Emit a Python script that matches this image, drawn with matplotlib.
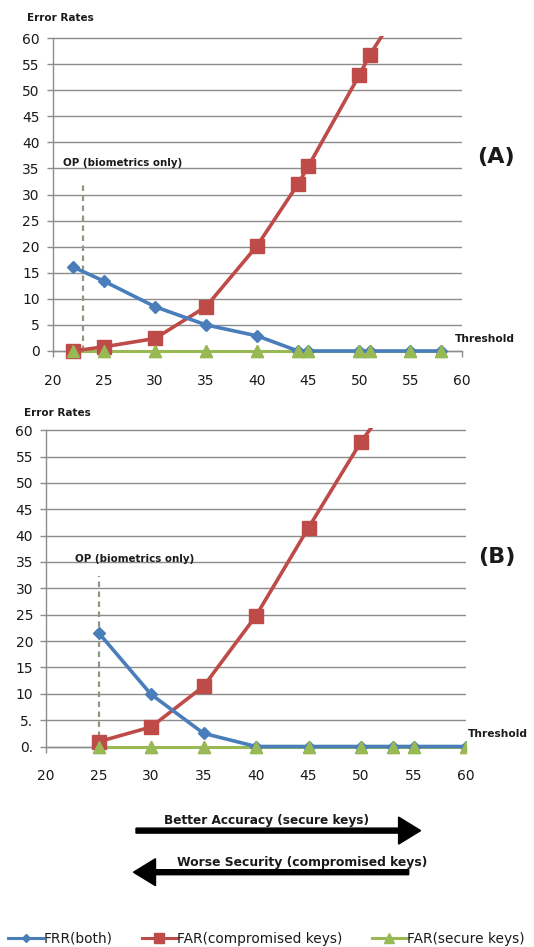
import numpy as np
import matplotlib
matplotlib.use('Agg')
import matplotlib.pyplot as plt
from matplotlib.lines import Line2D

plt.rcParams['font.family'] = ['DejaVu Sans']

# ---- data -------------------------------------------------------------
# (A)
a_x = [22, 25, 30, 35, 40, 44, 45, 50, 51, 55, 58]
a_frr = [16.1, 13.4, 8.5, 5.0, 2.9, 0, 0, 0, 0, 0, 0]
a_far_comp_x = [22, 25, 30, 35, 40, 44, 45, 50, 51, 55]
a_far_comp = [0, 0.8, 2.4, 8.5, 20.2, 32.0, 35.4, 52.9, 56.7, 69.0]
a_far_sec = [0, 0, 0, 0, 0, 0, 0, 0, 0, 0, 0]
a_op = 23

# (B)
b_x = [25, 30, 35, 40, 45, 50, 53, 55, 60]
b_frr = [21.6, 9.9, 2.5, 0, 0, 0, 0, 0, 0]
b_far_comp_x = [25, 30, 35, 40, 45, 50, 53]
b_far_comp = [0.9, 3.7, 11.4, 24.8, 41.5, 57.8, 66.0]
b_far_sec = [0, 0, 0, 0, 0, 0, 0, 0, 0]
b_op = 25

x_ticks = [20, 25, 30, 35, 40, 45, 50, 55, 60]
y_ticks = [0, 5, 10, 15, 20, 25, 30, 35, 40, 45, 50, 55, 60]
a_ylabels = ['0', '5', '10', '15', '20', '25', '30', '35', '40', '45', '50', '55', '60']
b_ylabels = ['0.', '5.', '10', '15', '20', '25', '30', '35', '40', '45', '50', '55', '60']

legend_labels = ['FRR(both)', 'FAR(compromised keys)', 'FAR(secure keys)']

BLUE = '#4A7EBB'
RED = '#BE4B48'
GREEN = '#98B954'
GRID = '#8c8c8c'
TXT = '#1a1a1a'

W, H = 534, 947
YLO, YHI = -1.6, 60.4


def place(x20, x60, y0, y60):
    ppy = (y0 - y60) / 60.0
    top = y60 - (YHI - 60) * ppy
    bottom = y0 - YLO * ppy
    return [x20 / W, 1 - bottom / H, (x60 - x20) / W, (bottom - top) / H]


def draw_panel(ax, xs, frr, fcx, fcomp, fsec, op, ylabels):
    ax.set_xlim(20, 60)
    ax.set_ylim(YLO, YHI)
    for s in ['top', 'right']:
        ax.spines[s].set_visible(False)
    ax.spines['bottom'].set_position(('data', 0))
    ax.spines['left'].set_bounds(0, 60)
    for s in ['bottom', 'left']:
        ax.spines[s].set_color(GRID)
        ax.spines[s].set_linewidth(1.0)
    ax.set_yticks(y_ticks)
    ax.set_yticklabels(ylabels)
    ax.set_xticks(x_ticks)
    ax.yaxis.grid(True, color=GRID, linewidth=1.0)
    ax.set_axisbelow(True)
    ax.tick_params(axis='y', length=4.3, width=1, color=GRID, pad=5.0,
                   labelsize=10, labelcolor=TXT)
    ax.tick_params(axis='x', length=4.3, width=1, color=GRID, pad=12.0,
                   labelsize=10, labelcolor=TXT)
    ax.plot([op, op], [0, 32.4], color='#8e9a80', lw=1.6, ls=(0, (2.5, 2)), zorder=2)
    ax.plot(xs, fsec, color=GREEN, lw=2.2, marker='^', ms=8.5, zorder=3)
    ax.plot(fcx, fcomp, color=RED, lw=2.6, marker='s', ms=9.8, zorder=4)
    ax.plot(xs, frr, color=BLUE, lw=2.6, marker='D', ms=5.8, zorder=5)
    # green triangles drawn again on top, like the reference
    ax.plot(xs, fsec, color=GREEN, lw=0, marker='^', ms=8.5, zorder=6)


fig = plt.figure(figsize=(W / 100, H / 100), dpi=100)

axA = fig.add_axes(place(52.8, 461.5, 351.0, 38.1))
draw_panel(axA, a_x, a_frr, a_far_comp_x, a_far_comp, a_far_sec, a_op, a_ylabels)

axB = fig.add_axes(place(46.0, 466.0, 746.5, 430.2))
draw_panel(axB, b_x, b_frr, b_far_comp_x, b_far_comp, b_far_sec, b_op, b_ylabels)

# overlay in pixel coordinates for annotations
ov = fig.add_axes([0, 0, 1, 1])
ov.set_xlim(0, W)
ov.set_ylim(H, 0)
ov.axis('off')

bold = dict(fontweight='bold', color=TXT)
ov.text(26.6, 17.7, 'Error Rates', fontsize=7.5, va='center', ha='left', **bold)
ov.text(63, 162.8, 'OP (biometrics only)', fontsize=7.4, va='center', ha='left', **bold)
ov.text(496, 156.7, '(A)', fontsize=16, va='center', ha='center', **bold)
ov.text(454.7, 339, 'Threshold', fontsize=7.7, va='center', ha='left', **bold)

ov.text(23.8, 412.8, 'Error Rates', fontsize=7.5, va='center', ha='left', **bold)
ov.text(75, 559.3, 'OP (biometrics only)', fontsize=7.4, va='center', ha='left', **bold)
ov.text(497, 556.9, '(B)', fontsize=16, va='center', ha='center', **bold)
ov.text(468, 734, 'Threshold', fontsize=7.7, va='center', ha='left', **bold)

# accuracy / security arrows
ov.text(267, 820.4, 'Better Accuracy (secure keys)', fontsize=8.7, va='center', ha='center', **bold)
ov.arrow(136, 830.6, 420.6 - 136, 0, width=5, head_width=27, head_length=22,
         length_includes_head=True, color='black')
ov.text(302, 862, 'Worse Security (compromised keys)', fontsize=8.9, va='center', ha='center', **bold)
ov.arrow(408.7, 872.2, 133.5 - 408.7, 0, width=5, head_width=27, head_length=22,
         length_includes_head=True, color='black')

handles = [
    Line2D([], [], color=BLUE, lw=2.2, marker='D', ms=4.5),
    Line2D([], [], color=RED, lw=2.2, marker='s', ms=7),
    Line2D([], [], color=GREEN, lw=2.2, marker='^', ms=7),
]
fig.legend(handles, legend_labels, ncol=3, loc='center left',
           bbox_to_anchor=(8.0 / W, 1 - 938.6 / H), frameon=False,
           fontsize=9.9, handlelength=2.55, handletextpad=0.05,
           columnspacing=2.1, borderaxespad=0, borderpad=0,
           labelcolor=TXT)

fig.savefig('out.png', dpi=100)
